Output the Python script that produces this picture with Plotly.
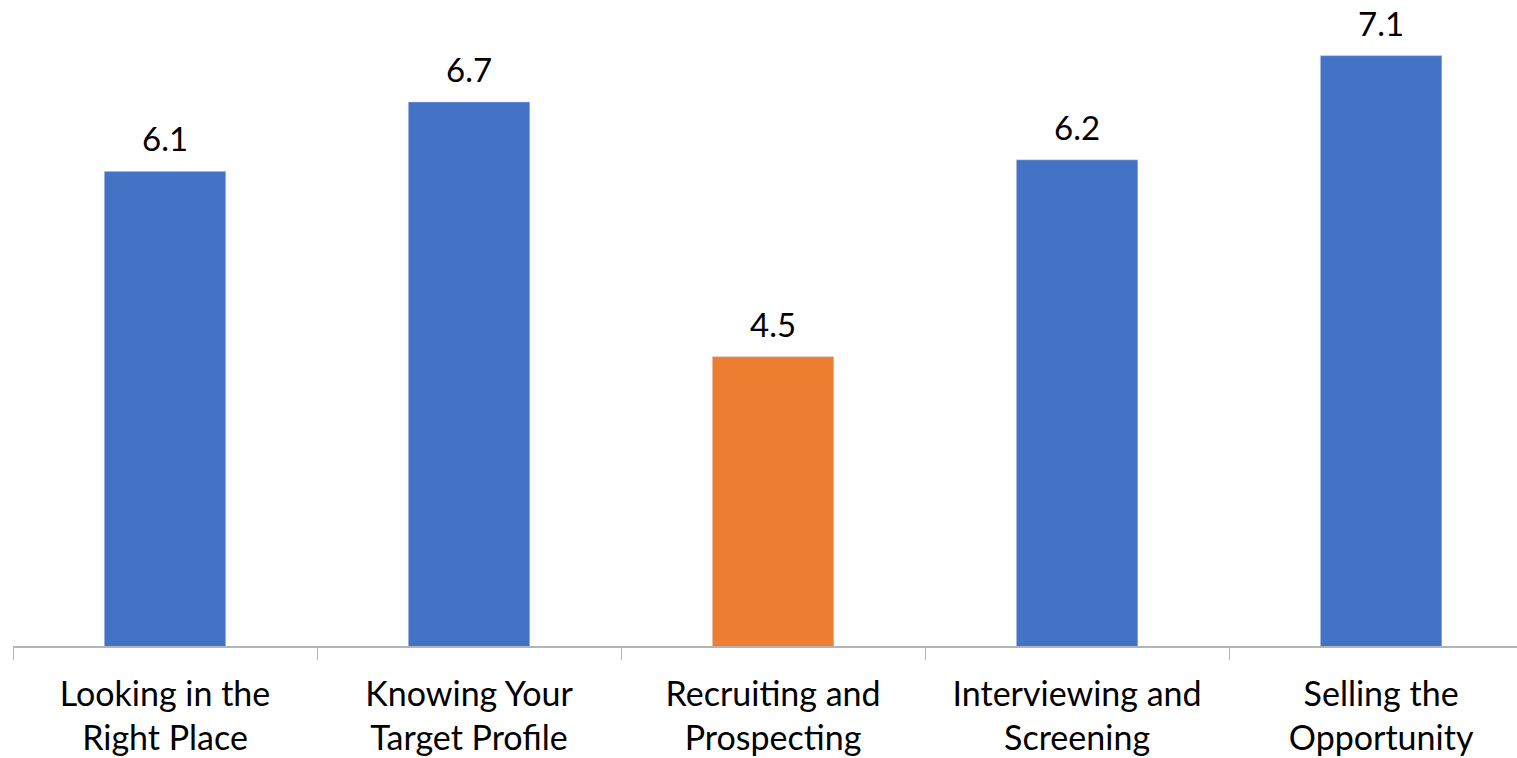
import plotly.graph_objects as go

categories = ["Looking in the<br>Right Place", "Knowing Your<br>Target Profile",
              "Recruiting and<br>Prospecting", "Interviewing and<br>Screening",
              "Selling the<br>Opportunity"]
values = [6.1, 6.7, 4.5, 6.2, 7.1]
colors = ["#4472C4", "#4472C4", "#ED7D31", "#4472C4", "#4472C4"]

fig = go.Figure(go.Bar(
    x=categories, y=values, marker_color=colors, width=0.4,
    cliponaxis=False,
))

for c, v in zip(categories, values):
    fig.add_annotation(x=c, y=v, text=f"{v:.1f}", showarrow=False,
                       yanchor="bottom", yshift=11,
                       font=dict(family="Lato", size=33, color="#000000"))

fig.update_layout(
    width=1517, height=758,
    margin=dict(l=13, r=0, t=0, b=112),
    paper_bgcolor="white", plot_bgcolor="white",
    font=dict(family="Lato", size=34, color="#000000"),
    showlegend=False,
)
fig.update_xaxes(
    type="category", range=[-0.5, 4.447],
    showline=True, linecolor="#B4B4B4", linewidth=1.5,
    ticks="outside", tickson="boundaries", ticklen=12, tickcolor="#B4B4B4", tickwidth=1,
    tickfont=dict(family="Lato", size=34, color="#000000"),
    ticklabelstandoff=17,
    showgrid=False, zeroline=False,
)
fig.update_yaxes(range=[2, 7.58], visible=False, showgrid=False, zeroline=False)

fig.write_html("out.html")
